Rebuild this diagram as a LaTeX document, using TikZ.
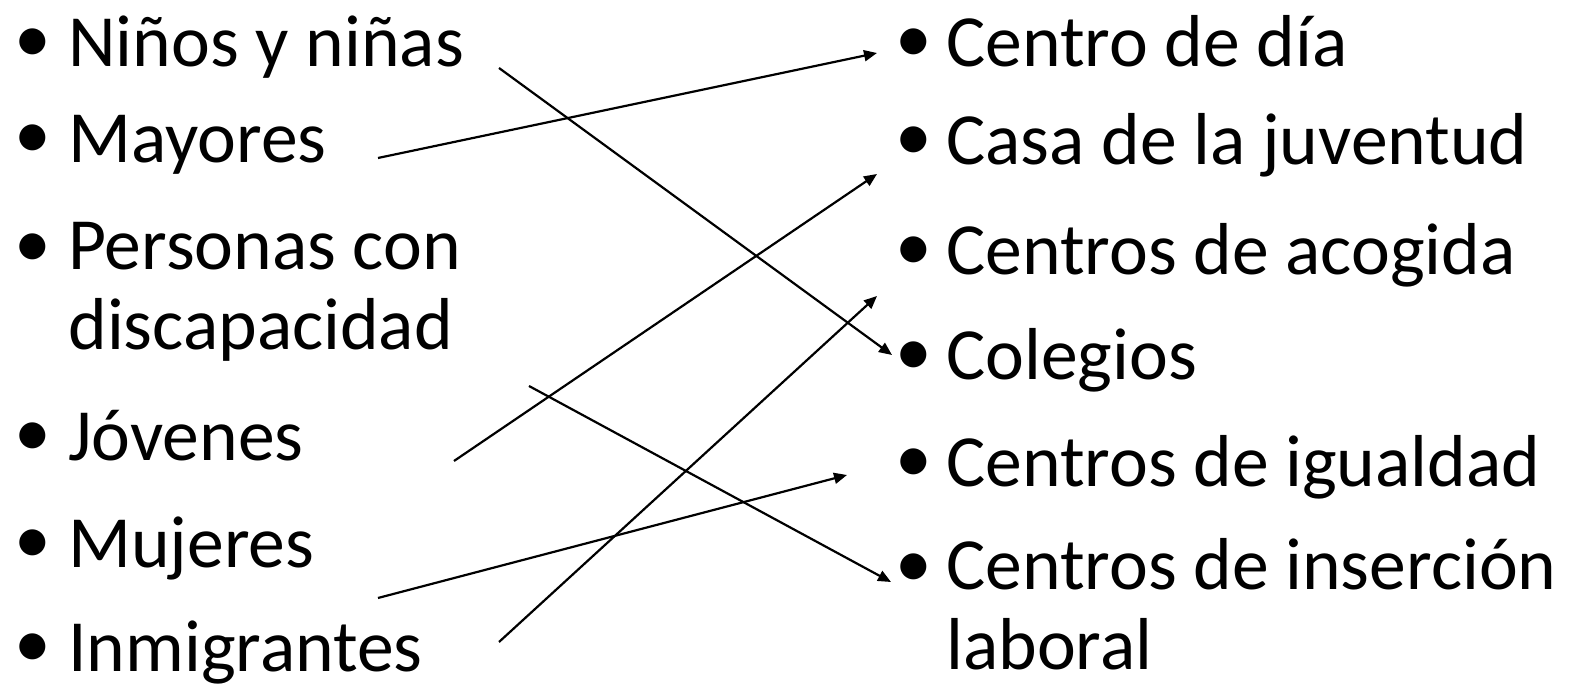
\documentclass[tikz,border=0pt]{standalone}
\usepackage{fontspec}
\setmainfont{Carlito}
\usetikzlibrary{arrows.meta}

\begin{document}
\begin{tikzpicture}[x=0.5pt,y=-0.5pt,
    item/.style={anchor=base west, inner sep=0pt, align=left,
      font=\fontsize{36.8}{40}\selectfont},
    dot/.style={item, yshift=2pt},
    link/.style={-{Triangle[length=6.5pt,width=5.5pt]}, line width=1.1pt}]
  \useasboundingbox (0,0) rectangle (1571,688);

  \node[dot] (bl1) at (14,67) {•};
  \node[dot] (bl2) at (14,163) {•};
  \node[dot] (bl3) at (14,272) {•};
  \node[dot] (bl4) at (14,461) {•};
  \node[dot] (bl5) at (14,568) {•};
  \node[dot] (bl6) at (14,672) {•};
  \node[item] (ninos) at (68,67) {Niños y niñas};
  \node[item] (mayores) at (68,163) {Mayores};
  \node[item] (personas) at (68,350) {Personas con\\discapacidad};
  \node[item] (jovenes) at (68,461) {Jóvenes};
  \node[item] (mujeres) at (68,568) {Mujeres};
  \node[item] (inmigrantes) at (68,672) {Inmigrantes};

  \node[dot] (br1) at (895,67) {•};
  \node[dot] (br2) at (895,165) {•};
  \node[dot] (br3) at (895,275) {•};
  \node[dot] (br4) at (895,380) {•};
  \node[dot] (br5) at (895,487) {•};
  \node[dot] (br6) at (895,592) {•};
  \node[item] (dia) at (946,67) {Centro de día};
  \node[item] (casa) at (946,165) {Casa de la juventud};
  \node[item] (acogida) at (946,275) {Centros de acogida};
  \node[item] (colegios) at (946,380) {Colegios};
  \node[item] (igualdad) at (946,487) {Centros de igualdad};
  \node[item] (insercion) at (946,670) {Centros de inserción\\laboral};

  \coordinate (ninos-out) at (499,68);
  \coordinate (mayores-out) at (378,158);
  \coordinate (personas-out) at (529,386);
  \coordinate (jovenes-out) at (454,461);
  \coordinate (mujeres-out) at (378,598);
  \coordinate (inmigrantes-out) at (499,642);
  \coordinate (dia-in) at (877,53);
  \coordinate (casa-in) at (877,174);
  \coordinate (acogida-in) at (877,296);
  \coordinate (colegios-in) at (892,355);
  \coordinate (igualdad-in) at (847,475);
  \coordinate (insercion-in) at (891,582);

  \draw[link] (ninos-out) -- (colegios-in);
  \draw[link] (mayores-out) -- (dia-in);
  \draw[link] (personas-out) -- (insercion-in);
  \draw[link] (jovenes-out) -- (casa-in);
  \draw[link] (mujeres-out) -- (igualdad-in);
  \draw[link] (inmigrantes-out) -- (acogida-in);
\end{tikzpicture}
\end{document}
